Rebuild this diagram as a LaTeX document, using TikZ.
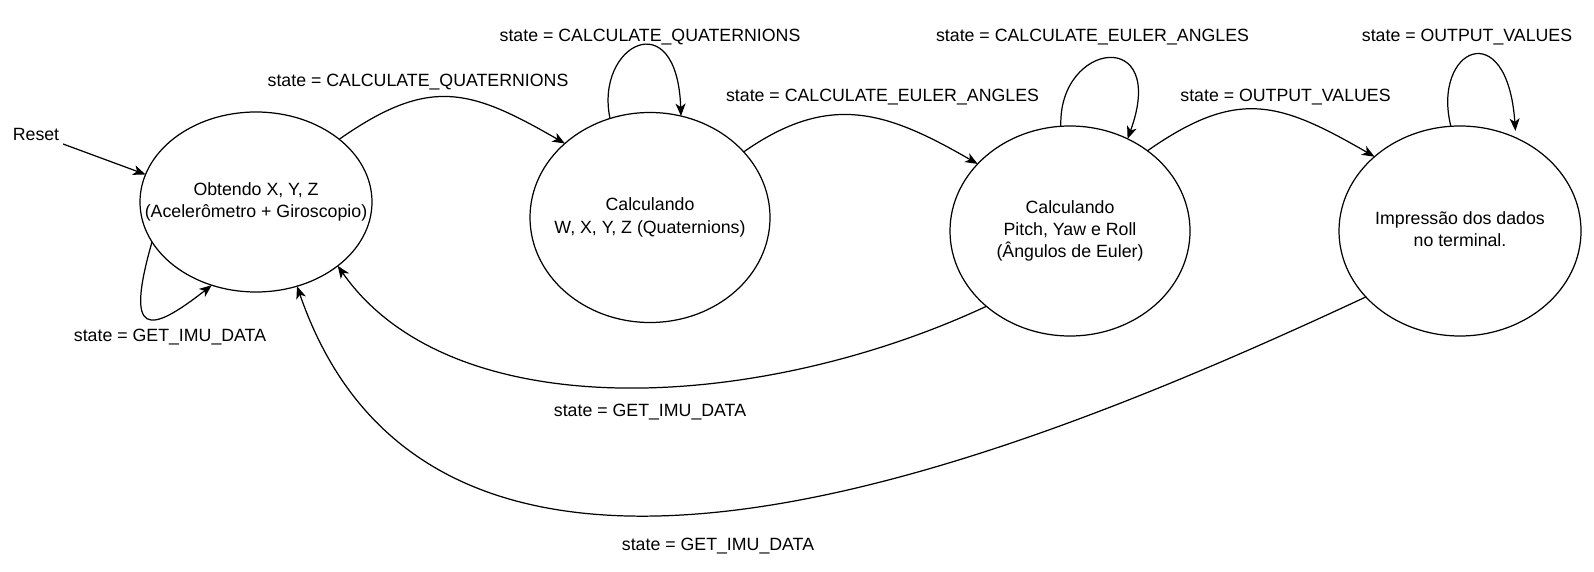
\documentclass[tikz,border=0pt]{standalone}
\usepackage{fontspec}
\setmainfont{Liberation Sans}
\usetikzlibrary{arrows.meta,positioning,shapes.geometric}
\newcommand{\estxt}[1]{\makebox[0pt]{\begin{tabular}{@{}c@{}}#1\end{tabular}}}
\tikzset{
    %Define standard arrow tip
    >={Stealth[length=2.5mm,width=2mm,inset=0.7mm]},
    %Define style for states
    estado/.style={
           ellipse,
           draw=black, line width=0.7pt,
           inner sep=0pt, outer sep=0pt,
           font=\fontsize{10.1}{12.7}\selectfont},
    rotulo/.style={
           inner sep=0pt,
           font=\fontsize{10.1}{12.7}\selectfont},
    % Define arrow style
    trans/.style={
           ->,
           line width=0.7pt}
}

\begin{document}
\begin{tikzpicture}[node distance=3cm]
\useasboundingbox (0,0) rectangle (31.88,-11.44);
\node[estado, minimum width=4.64cm, minimum height=3.6cm] (s1) at (5.12,-4.04)
    {\estxt{Obtendo X, Y, Z\\(Acelerômetro + Giroscopio)}};
\node[estado, minimum width=4.8cm, minimum height=4.2cm, right=3.16cm of s1, yshift=-0.31cm] (s2)
    {\estxt{Calculando\\W, X, Y, Z (Quaternions)}};
\node[estado, minimum width=4.8cm, minimum height=4.2cm, right=3.6cm of s2, yshift=-0.27cm] (s3)
    {\estxt{Calculando\\Pitch, Yaw e Roll\\(Ângulos de Euler)}};
\node[estado, minimum width=4.84cm, minimum height=4.2cm, right=2.98cm of s3] (s4)
    {\estxt{Impressão dos dados\\no terminal.}};
% labels
\node[rotulo] (rst) at (0.72,-2.68) {Reset};
\node[rotulo] (l11) at (3.4,-6.74) {state = GET\_IMU\_DATA};
\node[rotulo] (l12) at (8.36,-1.64) {state = CALCULATE\_QUATERNIONS};
\node[rotulo] (l22) at (13.0,-0.734) {state = CALCULATE\_QUATERNIONS};
\node[rotulo] (l23) at (17.65,-1.94) {state = CALCULATE\_EULER\_ANGLES};
\node[rotulo] (l33) at (21.85,-0.734) {state = CALCULATE\_EULER\_ANGLES};
\node[rotulo] (l34) at (25.71,-1.934) {state = OUTPUT\_VALUES};
\node[rotulo] (l44) at (29.34,-0.734) {state = OUTPUT\_VALUES};
\node[rotulo] (l31) at (13.0,-8.246) {state = GET\_IMU\_DATA};
\node[rotulo] (l41) at (14.36,-10.93) {state = GET\_IMU\_DATA};
% transitions
\draw[trans, shorten <=0.2cm] (rst) -- (s1.166);
\draw[trans] (s1.201) .. controls +(254:2cm) and +(218:1.6cm) .. (s1.242);
\draw[trans] (s1.37) .. controls +(35:2.2cm) and +(150:2.2cm) .. (s2.139);
\draw[trans] (s2.112) .. controls +(102:1.5cm) and +(92:2.3cm) .. (s2.73);
\draw[trans] (s2.35) .. controls +(35:2.1cm) and +(150:2.1cm) .. (s3.144);
\draw[trans] (s3.95) .. controls +(92:1.7cm) and +(70:2.4cm) .. (s3.58);
\draw[trans] (s3.46) .. controls +(35:2.2cm) and +(150:2.2cm) .. (s4.139);
\draw[trans, shorten >=4pt] (s4.95) .. controls +(104:1.6cm) and +(94:2.5cm) .. (s4.59);
\draw[trans] (s3.222) .. controls +(205:5cm) and +(305:4cm) .. (s1.322);
\draw[trans] (s4.215) .. controls +(205:8cm) and +(289:8.6cm) .. (s1.296);
\end{tikzpicture}
\end{document}
